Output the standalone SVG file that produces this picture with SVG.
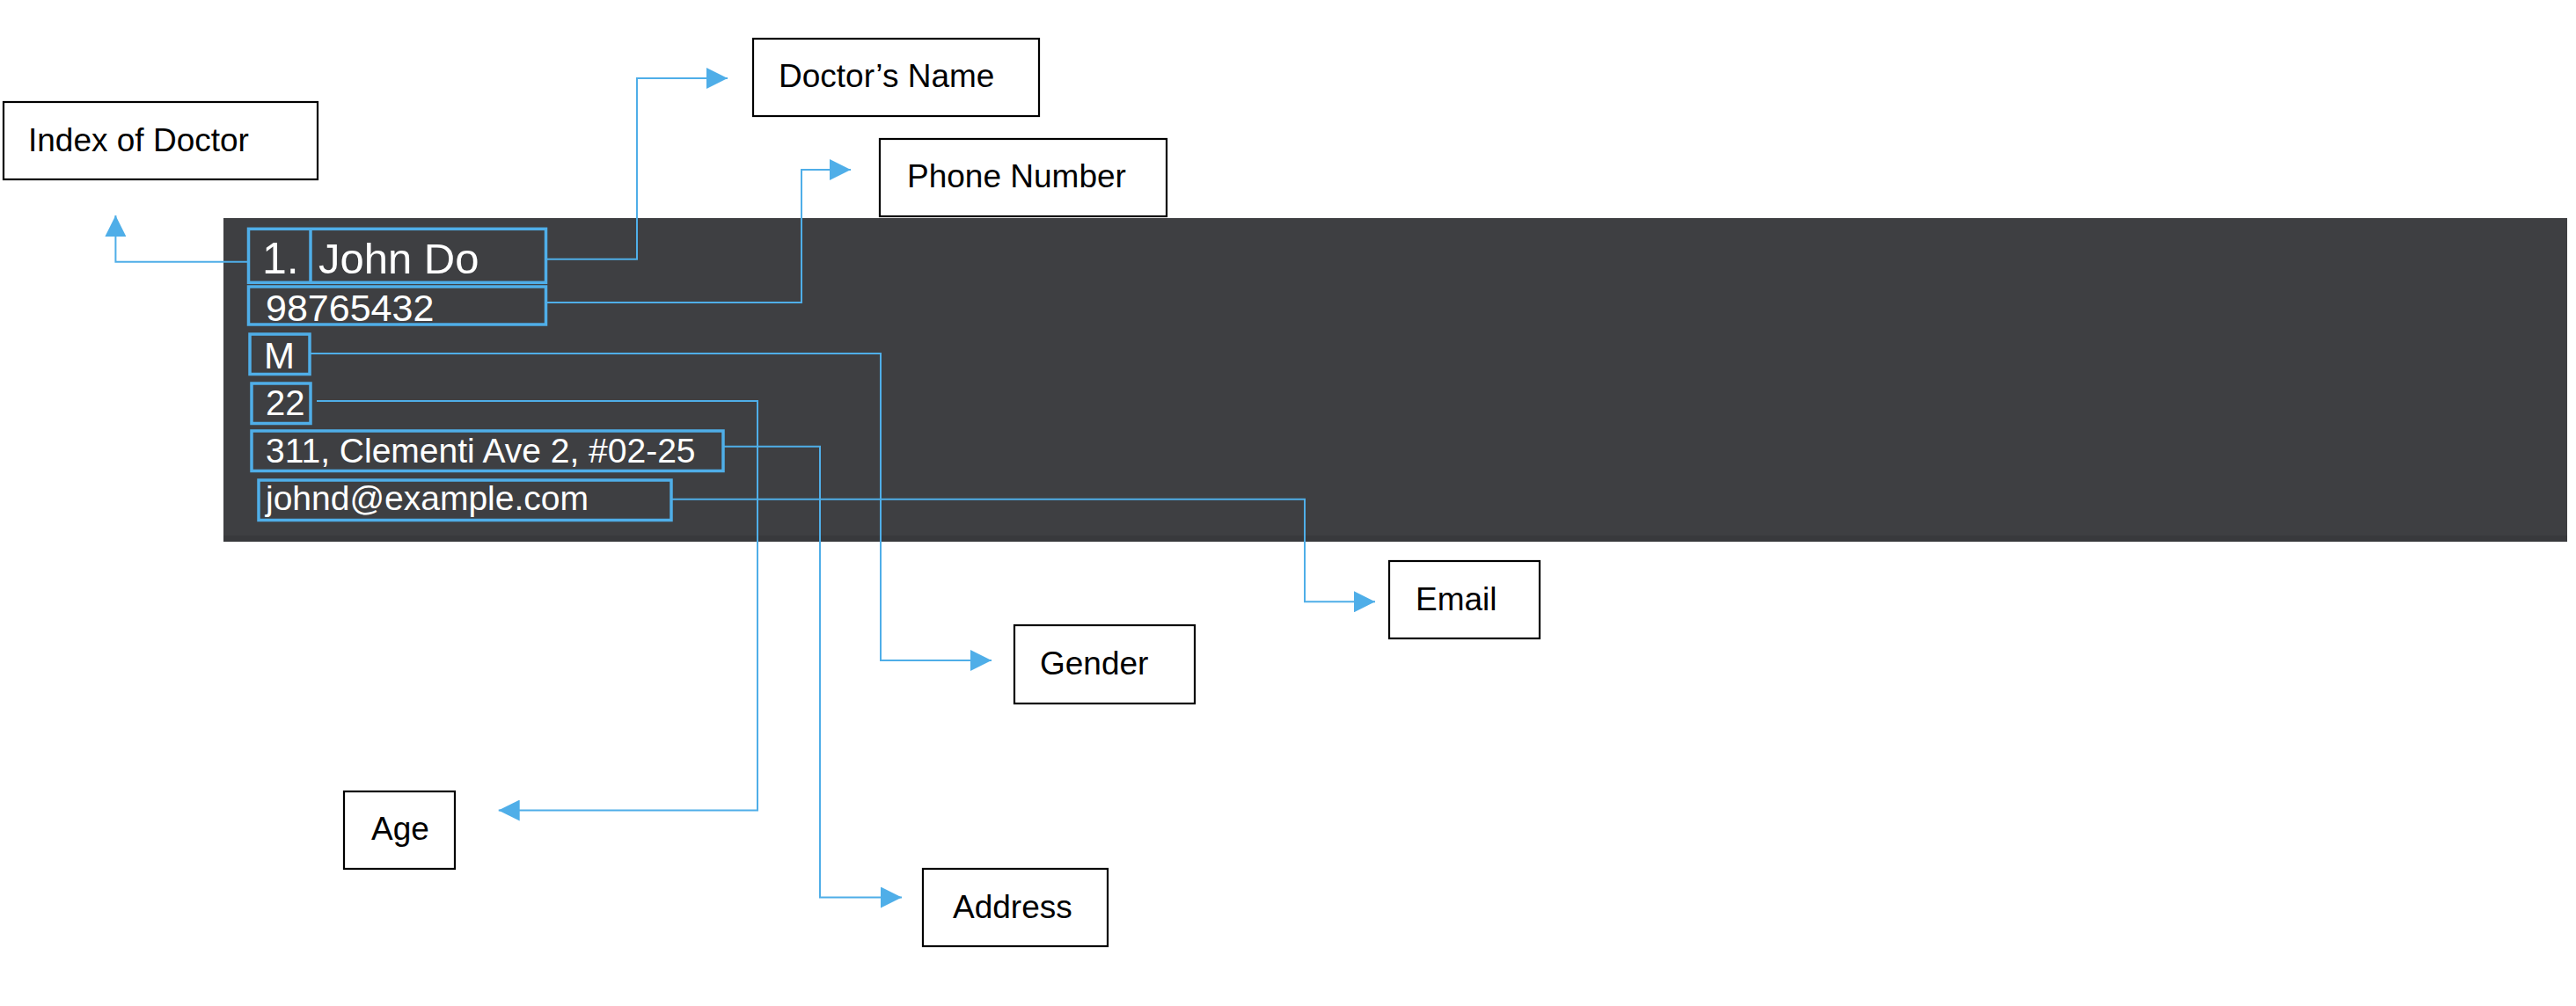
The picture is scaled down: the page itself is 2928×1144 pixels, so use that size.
<svg xmlns="http://www.w3.org/2000/svg" width="2928" height="1144" viewBox="0 0 2928 1144">
  <style>
    .lbl rect { fill: #ffffff; stroke: #000000; stroke-width: 2.2; }
    .lbl text { font-family: "Liberation Sans", Arial, sans-serif; font-size: 37px; fill: #000000; }
    .fld rect, .fld line { fill: none; stroke: #4FAEE8; stroke-width: 3.5; }
    .fld text { font-family: "Liberation Sans", Arial, sans-serif; fill: #ffffff; }
    .conn path { fill: none; stroke: #4FAEE8; stroke-width: 2; marker-end: url(#arr); }
  </style>
  <defs>
    <marker id="arr" markerUnits="userSpaceOnUse" markerWidth="24" markerHeight="24" refX="24" refY="12" orient="auto" viewBox="0 0 24 24">
      <path d="M0,0 L24,12 L0,24 z" fill="#4FAEE8"/>
    </marker>
  </defs>
  <rect width="2928" height="1144" fill="#ffffff"/>

  <!-- card panel -->
  <g id="panel">
    <rect x="254" y="248" width="2664" height="368" fill="#3E3F42"/>
    <rect x="254" y="609" width="2664" height="7" fill="#38393C"/>
  </g>

  <!-- fields inside the card -->
  <g id="field-name" class="fld">
    <rect x="282.5" y="260.3" width="338" height="61"/>
    <line x1="353" y1="260.3" x2="353" y2="321.3"/>
    <text x="298" y="311" font-size="50">1.</text>
    <text x="362" y="311" font-size="49">John Do</text>
  </g>
  <g id="field-phone" class="fld">
    <rect x="282.5" y="326" width="338" height="43"/>
    <text x="302" y="365" font-size="43">98765432</text>
  </g>
  <g id="field-gender" class="fld">
    <rect x="284" y="380" width="68" height="45.5"/>
    <text x="300" y="419" font-size="42">M</text>
  </g>
  <g id="field-age" class="fld">
    <rect x="286" y="436" width="67" height="45.5"/>
    <text x="302" y="471.5" font-size="40">22</text>
  </g>
  <g id="field-address" class="fld">
    <rect x="286" y="490" width="536" height="45.5"/>
    <text x="302" y="525.5" font-size="39">311, Clementi Ave 2, #02-25</text>
  </g>
  <g id="field-email" class="fld">
    <rect x="294" y="546" width="469" height="45.5"/>
    <text x="302" y="580" font-size="39">johnd@example.com</text>
  </g>

  <!-- label nodes -->
  <g id="label-index" class="lbl">
    <rect x="4" y="116" width="357" height="88"/>
    <text x="32" y="172">Index of Doctor</text>
  </g>
  <g id="label-name" class="lbl">
    <rect x="856" y="44" width="325" height="88"/>
    <text x="885" y="99">Doctor’s Name</text>
  </g>
  <g id="label-phone" class="lbl">
    <rect x="1000" y="158" width="326" height="88"/>
    <text x="1031" y="213">Phone Number</text>
  </g>
  <g id="label-gender" class="lbl">
    <rect x="1153" y="711" width="205" height="89"/>
    <text x="1182" y="767">Gender</text>
  </g>
  <g id="label-email" class="lbl">
    <rect x="1579" y="638" width="171" height="88"/>
    <text x="1609" y="694">Email</text>
  </g>
  <g id="label-age" class="lbl">
    <rect x="391" y="900" width="126" height="88"/>
    <text x="422" y="955">Age</text>
  </g>
  <g id="label-address" class="lbl">
    <rect x="1049" y="988" width="210" height="88"/>
    <text x="1083" y="1044">Address</text>
  </g>

  <!-- connectors -->
  <g id="connectors" class="conn">
    <path d="M281,297.7 H131.4 V245"/>
    <path d="M622,294.7 H724 V89 H827"/>
    <path d="M622,344 H911 V193 H967"/>
    <path d="M353,402 H1001 V751 H1127"/>
    <path d="M360,456 H861 V921.5 H566.7"/>
    <path d="M823,507.8 H932 V1020.5 H1025"/>
    <path d="M764,567.7 H1483 V684.3 H1563"/>
  </g>
</svg>
